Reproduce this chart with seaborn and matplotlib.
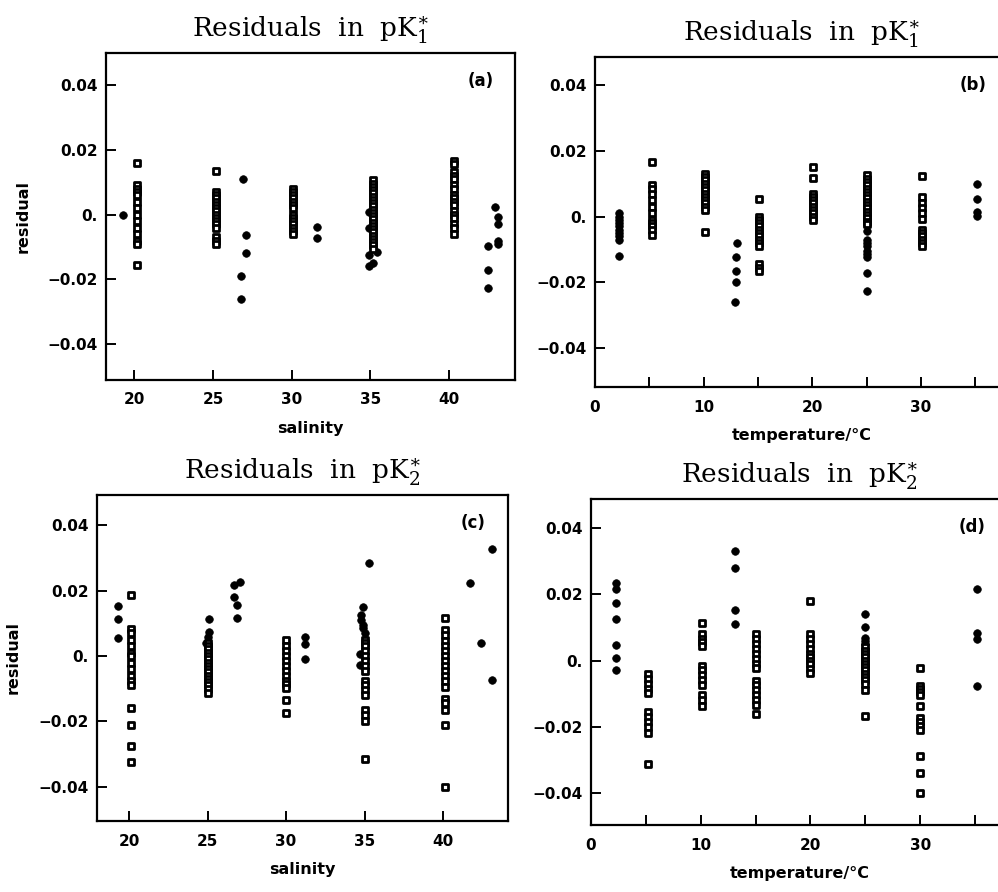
import matplotlib
matplotlib.use("Agg")
import matplotlib.pyplot as plt
import seaborn as sns
import pandas as pd
import numpy as np

# ---- data ----
# (a) pK1 residuals vs salinity
a_sq_x = [20.2, 25.2, 30.1, 35.2, 40.3]
a_sq_y = [
    [0.016, 0.009, 0.008, 0.007, 0.006, 0.004, 0.002, 0.0, -0.002, -0.004, -0.006, -0.008, -0.009, -0.0155],
    [0.0135, 0.007, 0.006, 0.005, 0.004, 0.003, 0.002, 0.001, 0.0, -0.001, -0.002, -0.003, -0.004, -0.007, -0.008, -0.009],
    [0.008, 0.007, 0.006, 0.005, 0.004, 0.003, 0.002, 0.0, -0.001, -0.002, -0.003, -0.004, -0.005, -0.006],
    [0.0105, 0.0095, 0.0085, 0.0075, 0.0065, 0.0055, 0.0045, 0.0035, 0.0025, 0.0015, 0.0005, -0.0005,
     -0.0015, -0.0025, -0.0035, -0.0045, -0.0055, -0.0065, -0.0075, -0.0085, -0.0095, -0.0105],
    [0.0165, 0.0155, 0.013, 0.012, 0.011, 0.009, 0.008, 0.006, 0.005, 0.004, 0.003, 0.001, 0.0, -0.001, -0.003, -0.004, -0.006],
]
a_dot_x = [19.3, 26.9, 27.1, 27.1, 26.8, 26.8, 31.6, 31.6, 34.9, 34.9, 34.9, 35.2, 35.4, 34.9,
           42.5, 42.5, 42.5, 42.9, 43.1, 43.1, 43.1, 43.1]
a_dot_y = [-0.0002, 0.011, -0.0062, -0.012, -0.019, -0.026, -0.0038, -0.0071, 0.0008, -0.004, -0.0125, -0.015, -0.0115, -0.016,
           -0.0096, -0.017, -0.0226, 0.0024, -0.0008, -0.003, -0.008, -0.009]

# (b) pK1 residuals vs temperature
b_sq_x = [5.2, 10.1, 15.1, 20.1, 25.0, 30.1]
b_sq_y = [
    [0.0165, 0.0097, 0.0085, 0.007, 0.005, 0.003, 0.001, -0.001, -0.002, -0.003, -0.004, -0.0055],
    [0.013, 0.012, 0.011, 0.010, 0.009, 0.008, 0.007, 0.006, 0.005, 0.004, 0.003, 0.002, -0.0048],
    [0.0054, 0.0, -0.001, -0.002, -0.003, -0.004, -0.005, -0.006, -0.007, -0.008, -0.009, -0.0145, -0.0155, -0.0165],
    [0.015, 0.0118, 0.007, 0.006, 0.005, 0.004, 0.003, 0.002, 0.001, 0.0, -0.001],
    [0.0125, 0.0115, 0.0105, 0.0095, 0.0085, 0.0075, 0.0065, 0.0055, 0.0045, 0.0035, 0.0025, 0.0015,
     0.0005, -0.0005, -0.0015, -0.0022],
    [0.0122, 0.0059, 0.004, 0.0025, 0.001, -0.0007, -0.004, -0.005, -0.006, -0.007, -0.008, -0.0088],
]
b_dot_x = [2.2, 2.2, 2.2, 2.2, 2.2, 2.2, 2.2, 2.2, 2.2, 2.2,
           13.1, 13.0, 13.0, 13.0, 12.9,
           25.0, 25.0, 25.0, 25.0, 25.0, 25.0, 25.0, 25.0, 25.0,
           35.15, 35.15, 35.15, 35.15]
b_dot_y = [0.001, 0.0, -0.001, -0.002, -0.003, -0.004, -0.005, -0.006, -0.007, -0.012,
           -0.0081, -0.0124, -0.0164, -0.0198, -0.026,
           -0.0043, -0.007, -0.008, -0.009, -0.0105, -0.0115, -0.0124, -0.017, -0.0225,
           0.0099, 0.0054, 0.0013, 0.0003]

# (c) pK2 residuals vs salinity
c_sq_x = [20.1, 25.0, 30.0, 35.0, 40.1]
c_sq_y = [
    [0.0188, 0.0084, 0.007, 0.005, 0.003, 0.001, 0.0, -0.002, -0.004, -0.006, -0.0075, -0.0088, -0.016, -0.0211, -0.0274, -0.0324],
    [0.004, 0.003, 0.002, 0.001, 0.0, -0.001, -0.002, -0.003, -0.004, -0.005, -0.006, -0.007, -0.008, -0.009, -0.010, -0.0114],
    [0.0048, 0.003, 0.0015, 0.0, -0.0015, -0.003, -0.0045, -0.006, -0.0075, -0.0085, -0.0099, -0.0134, -0.0175],
    [0.0049, 0.004, 0.003, 0.0015, 0.0, -0.0015, -0.003, -0.0045, -0.0075, -0.009, -0.0105, -0.012, -0.0165, -0.018, -0.02, -0.0315],
    [0.0115, 0.0079, 0.0065, 0.0045, 0.003, 0.0015, 0.0, -0.0015, -0.003, -0.0045, -0.006, -0.0075, -0.0094,
     -0.013, -0.0145, -0.0165, -0.021, -0.040],
]
c_dot_x = [19.3, 19.3, 19.3, 25.1, 25.1, 25.0, 24.9,
           27.1, 26.7, 26.7, 26.9, 26.9, 31.2, 31.2, 31.2,
           35.3, 34.9, 34.8, 34.8, 34.9, 34.9, 35.0, 34.7, 34.7,
           41.7, 42.4, 43.1, 43.1]
c_dot_y = [0.0152, 0.0113, 0.0054, 0.0113, 0.0074, 0.0059, 0.0039,
           0.0227, 0.0217, 0.0179, 0.0156, 0.0117, 0.0057, 0.0036, -0.001,
           0.0283, 0.015, 0.0125, 0.011, 0.0095, 0.0085, 0.007, 0.0005, -0.0027,
           0.0224, 0.0039, 0.0328, -0.0073]

# (d) pK2 residuals vs temperature
d_sq_x = [5.2, 10.15, 15.0, 20.0, 25.0, 30.0]
d_sq_y = [
    [-0.004, -0.0055, -0.007, -0.0085, -0.0098, -0.0155, -0.017, -0.0185, -0.020, -0.0219, -0.0312],
    [0.0114, 0.0079, 0.0065, 0.0055, 0.0043, -0.0017, -0.003, -0.0045, -0.006, -0.0073, -0.0105, -0.012, -0.0138],
    [0.0079, 0.0065, 0.005, 0.0035, 0.002, 0.0005, -0.001, -0.0022, -0.0063, -0.0075, -0.009, -0.0105, -0.012, -0.0133, -0.0161],
    [0.018, 0.0079, 0.0065, 0.005, 0.0035, 0.002, 0.001, 0.0, -0.001, -0.0025, -0.0037],
    [0.004, 0.003, 0.002, 0.001, 0.0, -0.001, -0.002, -0.003, -0.004, -0.005, -0.006, -0.007, -0.0088, -0.0168],
    [-0.0024, -0.0078, -0.0085, -0.0095, -0.0103, -0.0138, -0.0174, -0.0185, -0.0197, -0.0209, -0.029, -0.034, -0.040],
]
d_dot_x = [2.3, 2.3, 2.3, 2.3, 2.3, 2.3, 2.3,
           13.1, 13.1, 13.1, 13.1,
           25.0, 25.0, 25.0, 25.0, 25.0,
           35.15, 35.15, 35.15, 35.15]
d_dot_y = [0.0235, 0.0215, 0.0175, 0.0124, 0.0048, 0.0008, -0.003,
           0.0331, 0.028, 0.0154, 0.0111,
           0.0141, 0.0101, 0.0069, 0.006, 0.005,
           0.0215, 0.0084, 0.0064, -0.0078]

res_ticks = [-0.04, -0.02, 0.0, 0.02, 0.04]
res_labels = ['\u22120.04', '\u22120.02', '0.', '0.02', '0.04']
sal_ticks = [20, 25, 30, 35, 40]
temp_ticks = [0, 10, 20, 30]
temp_minor = [5, 15, 25, 35]


def squares_frame(xs, ys):
    rows = [(x, v) for x, col in zip(xs, ys) for v in col]
    return pd.DataFrame(rows, columns=['x', 'res'])


sns.set_style('ticks')
plt.rcParams['font.family'] = ['DejaVu Sans']
plt.rcParams['mathtext.fontset'] = 'dejavuserif'
for key in ['text.color', 'axes.labelcolor', 'xtick.color', 'ytick.color', 'axes.edgecolor']:
    plt.rcParams[key] = 'black'

W, H = 998, 892
fig = plt.figure(figsize=(W / 100, H / 100), dpi=100)


def px_axes(l, t, r, b):
    return fig.add_axes([l / W, 1 - b / H, (r - l) / W, (b - t) / H])


panels = [
    dict(box=(106, 53, 515, 380), xlim=(18.2, 44.2), ylim=(-0.051, 0.0498), sq=(a_sq_x, a_sq_y),
         dot=(a_dot_x, a_dot_y), kind='sal', tag='(a)', title='Residuals  in  pK$_1^{\\ast}$', ylab=True),
    dict(box=(595, 57, 1008, 387), xlim=(0, 38), ylim=(-0.0518, 0.0485), sq=(b_sq_x, b_sq_y),
         dot=(b_dot_x, b_dot_y), kind='temp', tag='(b)', title='Residuals  in  pK$_1^{\\ast}$', ylab=False),
    dict(box=(97, 495, 508, 821), xlim=(17.96, 44.14), ylim=(-0.0504, 0.0492), sq=(c_sq_x, c_sq_y),
         dot=(c_dot_x, c_dot_y), kind='sal', tag='(c)', title='Residuals  in  pK$_2^{\\ast}$', ylab=True),
    dict(box=(591, 499, 1008, 825), xlim=(0, 38), ylim=(-0.0497, 0.0488), sq=(d_sq_x, d_sq_y),
         dot=(d_dot_x, d_dot_y), kind='temp', tag='(d)', title='Residuals  in  pK$_2^{\\ast}$', ylab=False),
]

for p in panels:
    ax = px_axes(*p['box'])
    sq = squares_frame(*p['sq'])
    dots = pd.DataFrame({'x': p['dot'][0], 'res': p['dot'][1]})
    sns.scatterplot(data=dots, x='x', y='res', ax=ax, marker='o', s=30,
                    color='black', edgecolor='black', linewidth=0.5, zorder=3)
    sns.scatterplot(data=sq, x='x', y='res', ax=ax, marker='s', s=18,
                    color='white', edgecolor='black', linewidth=2.0, zorder=3)
    ax.set_xlim(*p['xlim'])
    ax.set_ylim(*p['ylim'])
    ax.set_yticks(res_ticks, labels=res_labels, fontweight='bold', fontsize=11)
    if p['kind'] == 'sal':
        ax.set_xticks(sal_ticks, labels=[str(t) for t in sal_ticks], fontweight='bold', fontsize=11)
        ax.set_xlabel('salinity', fontweight='bold', fontsize=11.5)
    else:
        ax.set_xticks(temp_ticks, labels=[str(t) for t in temp_ticks], fontweight='bold', fontsize=11)
        ax.set_xticks(temp_minor, minor=True)
        ax.set_xlabel('temperature/\u00b0C', fontweight='bold', fontsize=11.5)
    ax.tick_params(axis='both', which='both', direction='in', length=7, width=1.4, color='black')
    ax.tick_params(axis='x', which='both', pad=9)
    ax.tick_params(axis='y', pad=6)
    ax.xaxis.set_label_coords(0.5, -0.125)
    if p['ylab']:
        ax.set_ylabel('residual', fontweight='bold', fontsize=11.5)
        ax.yaxis.set_label_coords(-0.185, 0.5)
    else:
        ax.set_ylabel('')
    for sp in ax.spines.values():
        sp.set_linewidth(1.6)
        sp.set_color('black')
    ax.text(0.915, 0.915, p['tag'], transform=ax.transAxes, ha='center', va='center',
            fontsize=12, fontweight='bold')
    ax.set_title(p['title'], fontsize=19, family='DejaVu Serif', pad=12)

fig.savefig('out.png', dpi=100, facecolor='white')
